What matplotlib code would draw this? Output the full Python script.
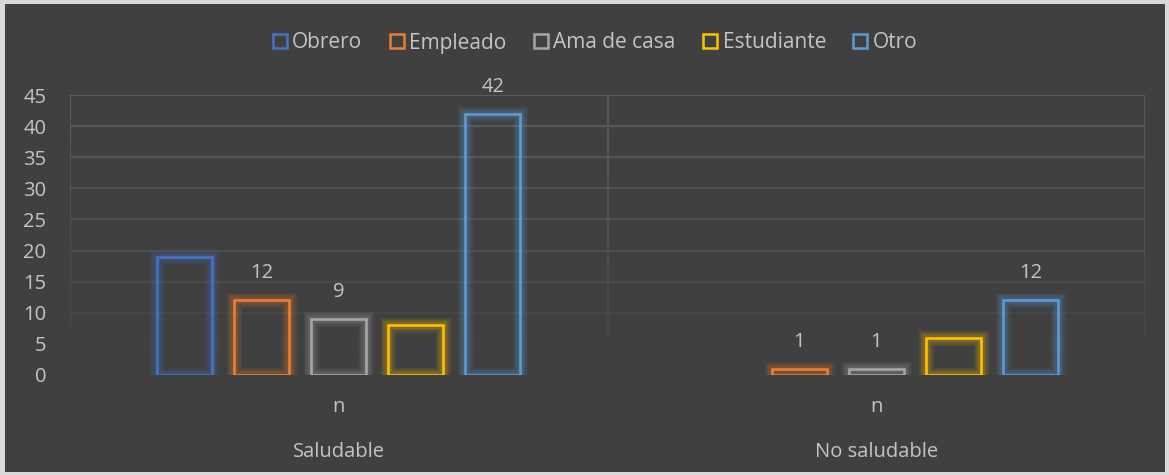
import numpy as np
import matplotlib
matplotlib.use("Agg")
import matplotlib.pyplot as plt
from matplotlib.lines import Line2D
from matplotlib.patches import Rectangle

# ---- data ----
groups = ["Saludable", "No saludable"]
sub_label = "n"
series = ["Obrero", "Empleado", "Ama de casa", "Estudiante", "Otro"]
obrero = [19, 0]
empleado = [12, 1]
ama_de_casa = [9, 1]
estudiante = [8, 6]
otro = [42, 12]
values = [obrero, empleado, ama_de_casa, estudiante, otro]
# which bars carry a data label in the original
show_label = [[False, False], [True, True], [True, True], [False, False], [True, True]]
yticks = [0, 5, 10, 15, 20, 25, 30, 35, 40, 45]

colors = ["#4472C4", "#ED7D31", "#A5A5A5", "#FFC000", "#5B9BD5"]
bg = "#404040"
txt = "#c4c4c4"
grid_c = "#5a5a5a"

plt.rcParams['font.family'] = ['Open Sans', 'DejaVu Sans']
fs = 14.5

W, H = 1169, 475
fig = plt.figure(figsize=(W / 100, H / 100), dpi=100)
fig.patch.set_facecolor("#d9d9d9")
fig.add_artist(Rectangle((5 / W, 3 / H), 1160 / W, 468 / H, transform=fig.transFigure,
                         facecolor=bg, edgecolor="none", zorder=0))

ax = fig.add_axes([70 / W, 1 - 375 / H, 1075 / W, 280 / H])
ax.set_facecolor("none")
ax.set_xlim(-0.5, 1.5)
ax.set_ylim(0, 45)
for s in ax.spines.values():
    s.set_visible(False)

# fading gridlines
for v in yticks:
    a = (v / 45) ** 0.9
    if v == 45:
        a = 1.0
    ax.axhline(v, color=grid_c, lw=1.6, alpha=a, zorder=1)
# fading vertical frame / separators
ys = np.linspace(0, 45, 46)
for xv in [-0.5, 0.5, 1.5]:
    for y0, y1 in zip(ys[:-1], ys[1:]):
        a = ((y0 + y1) / 2 / 45) ** 0.9
        ax.plot([xv, xv], [y0, y1], color=grid_c, lw=1.6, alpha=a, zorder=1,
                solid_capstyle="butt")

x = np.arange(len(groups))
step = 0.1433
width = 0.1023
for i, (name, vals, col) in enumerate(zip(series, values, colors)):
    xs = x + (i - 2) * step
    lw_main = [1.9 if v > 0 else 0 for v in vals]
    # glow layers
    for lw, al in [(11, 0.07), (9, 0.08), (7, 0.10), (5, 0.12)]:
        ax.bar(xs, vals, width, facecolor="none", edgecolor=col, alpha=al,
               linewidth=[lw if v > 0 else 0 for v in vals], joinstyle="miter", zorder=2)
    ax.bar(xs, vals, width, facecolor="none", edgecolor=col,
           linewidth=lw_main, joinstyle="miter", zorder=3)
    for xi, v, sh in zip(xs, vals, show_label[i]):
        if sh:
            ax.annotate(str(v), (xi, v), xytext=(0, 19.5), textcoords="offset points",
                        ha="center", va="center", color=txt, fontsize=fs)

ax.set_yticks(yticks)
ax.set_yticklabels([str(t) for t in yticks])
ax.tick_params(axis="y", length=0, pad=17, labelsize=fs, labelcolor=txt)
ax.set_xticks([])

for xi, g in zip(x, groups):
    ax.text(xi, -0.114, sub_label, transform=ax.get_xaxis_transform(),
            ha="center", va="center", color=txt, fontsize=fs)
    ax.text(xi, -0.275, g, transform=ax.get_xaxis_transform(),
            ha="center", va="center", color=txt, fontsize=fs)

handles = [Line2D([], [], linestyle="none", marker="s", markersize=10,
                  markerfacecolor="none", markeredgecolor=c, markeredgewidth=1.8)
           for c in colors]
fig.legend(handles, series, loc="center", bbox_to_anchor=(0.509, 1 - 43 / H), ncol=5,
           frameon=False, fontsize=15, labelcolor=txt, handlelength=0.7,
           handletextpad=0.25, columnspacing=1.3)

fig.savefig("out.png", dpi=100, facecolor=fig.get_facecolor())
